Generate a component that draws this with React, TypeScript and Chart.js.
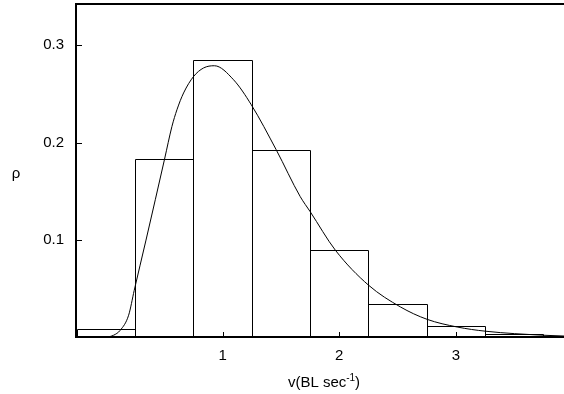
import React, { useEffect, useRef } from "react";
import { Chart, registerables } from "chart.js";

Chart.register(...registerables);

// Histogram bins (centres) and measured densities
const binCenters = [0, 0.5, 1, 1.5, 2, 2.5, 3, 3.5];
const binDensity = [0.008, 0.183, 0.285, 0.192, 0.089, 0.034, 0.011, 0.0035];

// Fitted curve
const curveX = [0.0, 0.023, 0.066, 0.123, 0.195, 0.243, 0.344, 0.503, 0.566, 0.609, 0.666, 0.752, 0.837, 0.93, 1.094, 1.246, 1.46, 1.666, 1.751, 1.966, 2.251, 2.523, 2.752, 3.01, 3.257, 3.75, 3.926];
const curveY = [0.0, 0.0002, 0.0018, 0.0069, 0.0224, 0.048, 0.0997, 0.183, 0.2165, 0.2337, 0.251, 0.268, 0.2767, 0.279, 0.2646, 0.2389, 0.1925, 0.1443, 0.1289, 0.0894, 0.0533, 0.031, 0.0182, 0.0103, 0.0059, 0.0018, 0.001];

// Axis ticks
const xTicks = [1, 2, 3];
const yTicks = [0.1, 0.2, 0.3];

const FONT = "Liberation Sans, Arial, Helvetica, sans-serif";

const framePlugin = {
  id: "frame",
  afterDatasetsDraw(chart: any) {
    // outline each histogram bar (shared edges drawn once, 1px)
    const { ctx } = chart;
    const meta = chart.getDatasetMeta(1);
    ctx.save();
    ctx.strokeStyle = "#000";
    ctx.lineWidth = 1;
    ctx.beginPath();
    for (const el of meta.data) {
      const p = el.getProps(["x", "y", "base", "width"], true);
      const l = Math.round(p.x - p.width / 2) + 0.5;
      const r = Math.round(p.x + p.width / 2) + 0.5;
      const t = Math.round(p.y) + 0.5;
      const b = Math.round(p.base);
      ctx.moveTo(l, b);
      ctx.lineTo(l, t);
      ctx.lineTo(r, t);
      ctx.lineTo(r, b);
    }
    ctx.stroke();
    ctx.restore();
  },
  afterDraw(chart: any) {
    const { ctx, chartArea } = chart;
    const { left, top, right, bottom } = chartArea;
    const xs = chart.scales.x;
    const ys = chart.scales.y;
    ctx.save();
    ctx.strokeStyle = "#000";
    // frame: left, bottom, top
    ctx.lineWidth = 2;
    ctx.beginPath();
    ctx.moveTo(right, top);
    ctx.lineTo(left, top);
    ctx.lineTo(left, bottom);
    ctx.lineTo(right, bottom);
    ctx.stroke();
    // inward tick marks
    ctx.lineWidth = 1;
    ctx.beginPath();
    for (const v of xTicks) {
      const px = Math.round(xs.getPixelForValue(v)) + 0.5;
      ctx.moveTo(px, bottom);
      ctx.lineTo(px, bottom - 5);
    }
    for (const v of yTicks) {
      const py = Math.round(ys.getPixelForValue(v)) + 0.5;
      ctx.moveTo(left, py);
      ctx.lineTo(left + 6, py);
    }
    ctx.stroke();
    // axis titles
    ctx.fillStyle = "#000";
    ctx.textBaseline = "alphabetic";
    ctx.textAlign = "left";
    const main = "v(BL sec";
    const sup = "-1";
    const close = ")";
    ctx.font = `15px ${FONT}`;
    const wMain = ctx.measureText(main).width;
    const wClose = ctx.measureText(close).width;
    ctx.font = `10px ${FONT}`;
    const wSup = ctx.measureText(sup).width;
    const total = wMain + wSup + wClose;
    const cx = (left + right) / 2 + 4;
    const base = 387;
    let x0 = cx - total / 2;
    ctx.font = `15px ${FONT}`;
    ctx.fillText(main, x0, base);
    x0 += wMain;
    ctx.font = `10px ${FONT}`;
    ctx.fillText(sup, x0, base - 6);
    x0 += wSup;
    ctx.font = `15px ${FONT}`;
    ctx.fillText(close, x0, base);
    // y title
    ctx.textAlign = "center";
    ctx.font = `15px ${FONT}`;
    ctx.fillText("ρ", 16, 178);
    ctx.restore();
  },
};

export default function App() {
  const ref = useRef<HTMLCanvasElement | null>(null);
  useEffect(() => {
    const canvas = ref.current;
    if (!canvas) return;
    const chart = new Chart(canvas, {
      type: "bar",
      data: {
        datasets: [
          {
            type: "line",
            data: curveX.map((x, i) => ({ x, y: curveY[i] })),
            borderColor: "#000",
            borderWidth: 1,
            pointRadius: 0,
            fill: false,
            cubicInterpolationMode: "monotone",
            order: 0,
          } as any,
          {
            type: "bar",
            data: binCenters.map((x, i) => ({ x, y: binDensity[i] })),
            backgroundColor: "rgba(0,0,0,0)",
            borderColor: "rgba(0,0,0,0)",
            borderWidth: 0,
            barPercentage: 1,
            categoryPercentage: 1,
            order: 1,
          } as any,
        ],
      },
      options: {
        responsive: false,
        animation: false,
        layout: { padding: { top: 4, right: 0, left: 0, bottom: 0 } },
        plugins: {
          legend: { display: false },
          tooltip: { enabled: false },
        },
        scales: {
          x: {
            type: "linear",
            min: -0.256,
            max: 3.926,
            offset: false,
            grid: { display: false, drawTicks: false },
            border: { display: false },
            afterBuildTicks: (s: any) => {
              s.ticks = xTicks.map((v) => ({ value: v }));
            },
            afterFit: (s: any) => {
              s.height = 57;
              s.paddingLeft = 0;
              s.paddingRight = 0;
            },
            ticks: {
              padding: 10,
              color: "#000",
              font: { family: FONT, size: 15 },
              maxRotation: 0,
              callback: (v: any) => String(v),
            },
          },
          y: {
            type: "linear",
            min: 0,
            max: 0.3425,
            grid: { display: false, drawTicks: false },
            border: { display: false },
            afterBuildTicks: (s: any) => {
              s.ticks = yTicks.map((v) => ({ value: v }));
            },
            afterFit: (s: any) => {
              s.width = 76;
              s.paddingTop = 0;
              s.paddingBottom = 0;
            },
            ticks: {
              padding: 12,
              color: "#000",
              font: { family: FONT, size: 15 },
              callback: (v: any) => Number(v).toFixed(1),
            },
          },
        },
      } as any,
      plugins: [framePlugin],
    });
    return () => chart.destroy();
  }, []);
  return (
    <div style={{ position: "fixed", left: 0, top: 0, width: 564, height: 394, background: "#fff" }}>
      <canvas ref={ref} width={564} height={394} style={{ display: "block" }} />
    </div>
  );
}
